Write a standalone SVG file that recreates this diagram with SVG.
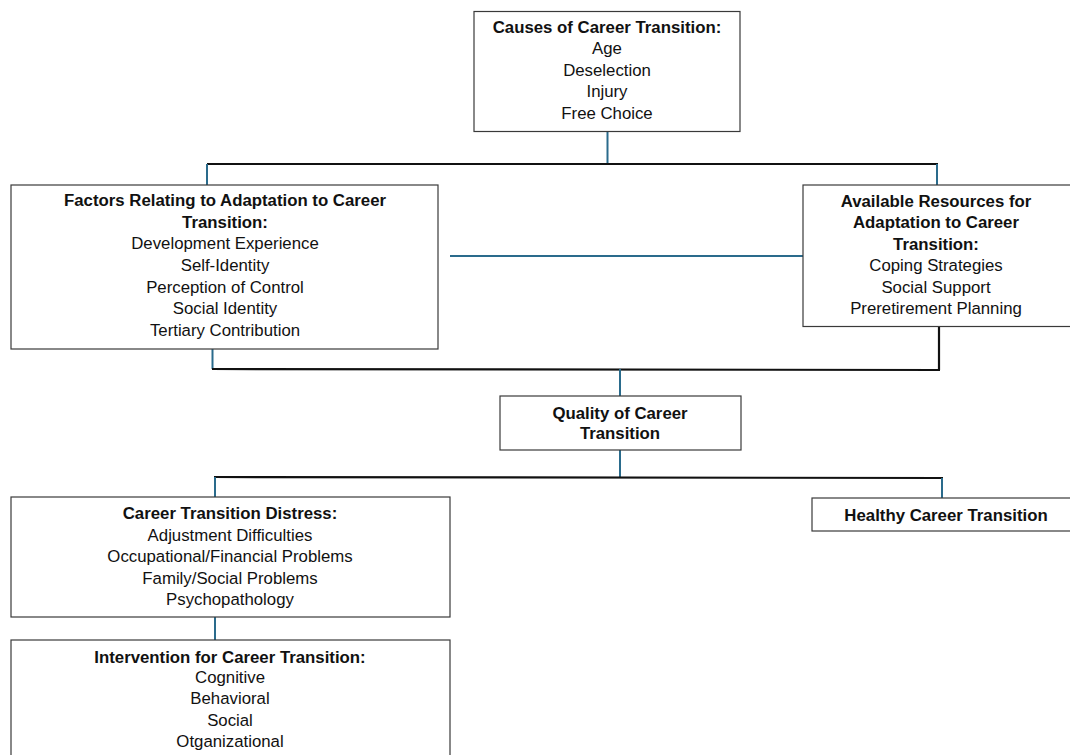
<svg xmlns="http://www.w3.org/2000/svg" width="1070" height="755" viewBox="0 0 1070 755">
  <style>
    .box { fill: #ffffff; stroke: #3a3a3a; stroke-width: 1.2; }
    .t { font-family: "Liberation Sans", Arial, sans-serif; font-size: 16.8px; fill: #111111; text-anchor: middle; }
    .b { font-weight: bold; }
    .blue { stroke: #2a6b8c; stroke-width: 2; fill: none; }
    .blk { stroke: #111111; stroke-width: 2.2; fill: none; }
  </style>
  <rect width="1070" height="755" fill="#ffffff"/>

  <!-- connectors -->
  <g id="connectors">
    <!-- causes to factors / resources -->
    <line class="blue" x1="607.5" y1="131" x2="607.5" y2="164"/>
    <line class="blk" x1="207" y1="164" x2="938" y2="164"/>
    <line class="blue" x1="207" y1="164" x2="207" y2="185"/>
    <line class="blue" x1="937" y1="164" x2="937" y2="185"/>
    <!-- factors to resources -->
    <line class="blue" x1="450" y1="256" x2="803" y2="256"/>
    <!-- factors / resources to quality -->
    <line class="blue" x1="212.5" y1="349" x2="212.5" y2="369"/>
    <line class="blk" x1="939" y1="327" x2="939" y2="370"/>
    <line class="blk" x1="212" y1="369" x2="940" y2="370"/>
    <line class="blue" x1="620" y1="369" x2="620" y2="396"/>
    <!-- quality to outcomes -->
    <line class="blue" x1="620" y1="450" x2="620" y2="477"/>
    <line class="blk" x1="214" y1="477" x2="943" y2="478"/>
    <line class="blue" x1="215" y1="477" x2="215" y2="497"/>
    <line class="blue" x1="942" y1="478" x2="942" y2="498"/>
    <!-- distress to intervention -->
    <line class="blue" x1="215" y1="617" x2="215" y2="640"/>
  </g>

  <!-- Causes -->
  <g id="causes">
    <rect class="box" x="474" y="11.5" width="266" height="120"/>
    <text class="t b" x="607" y="33">Causes of Career Transition:</text>
    <text class="t" x="607" y="54">Age</text>
    <text class="t" x="607" y="76">Deselection</text>
    <text class="t" x="607" y="97">Injury</text>
    <text class="t" x="607" y="119">Free Choice</text>
  </g>

  <!-- Factors -->
  <g id="factors">
    <rect class="box" x="11" y="185" width="427" height="164"/>
    <text class="t b" x="225" y="206">Factors Relating to Adaptation to Career</text>
    <text class="t b" x="225" y="228">Transition:</text>
    <text class="t" x="225" y="249">Development Experience</text>
    <text class="t" x="225" y="271">Self-Identity</text>
    <text class="t" x="225" y="293">Perception of Control</text>
    <text class="t" x="225" y="314">Social Identity</text>
    <text class="t" x="225" y="336">Tertiary Contribution</text>
  </g>

  <!-- Resources -->
  <g id="resources">
    <rect class="box" x="803" y="185" width="280" height="141.5"/>
    <text class="t b" x="936" y="207">Available Resources for</text>
    <text class="t b" x="936" y="228">Adaptation to Career</text>
    <text class="t b" x="936" y="250">Transition:</text>
    <text class="t" x="936" y="271">Coping Strategies</text>
    <text class="t" x="936" y="293">Social Support</text>
    <text class="t" x="936" y="314">Preretirement Planning</text>
  </g>

  <!-- Quality -->
  <g id="quality">
    <rect class="box" x="500" y="396" width="241" height="54"/>
    <text class="t b" x="620" y="419">Quality of Career</text>
    <text class="t b" x="620" y="439">Transition</text>
  </g>

  <!-- Distress -->
  <g id="distress">
    <rect class="box" x="11" y="497" width="439" height="120"/>
    <text class="t b" x="230" y="519">Career Transition Distress:</text>
    <text class="t" x="230" y="541">Adjustment Difficulties</text>
    <text class="t" x="230" y="562">Occupational/Financial Problems</text>
    <text class="t" x="230" y="584">Family/Social Problems</text>
    <text class="t" x="230" y="605">Psychopathology</text>
  </g>

  <!-- Healthy -->
  <g id="healthy">
    <rect class="box" x="812" y="498" width="270" height="33"/>
    <text class="t b" x="946" y="521">Healthy Career Transition</text>
  </g>

  <!-- Intervention -->
  <g id="intervention">
    <rect class="box" x="11" y="640" width="439" height="130"/>
    <text class="t b" x="230" y="663">Intervention for Career Transition:</text>
    <text class="t" x="230" y="683">Cognitive</text>
    <text class="t" x="230" y="704">Behavioral</text>
    <text class="t" x="230" y="726">Social</text>
    <text class="t" x="230" y="747">Otganizational</text>
  </g>
</svg>
